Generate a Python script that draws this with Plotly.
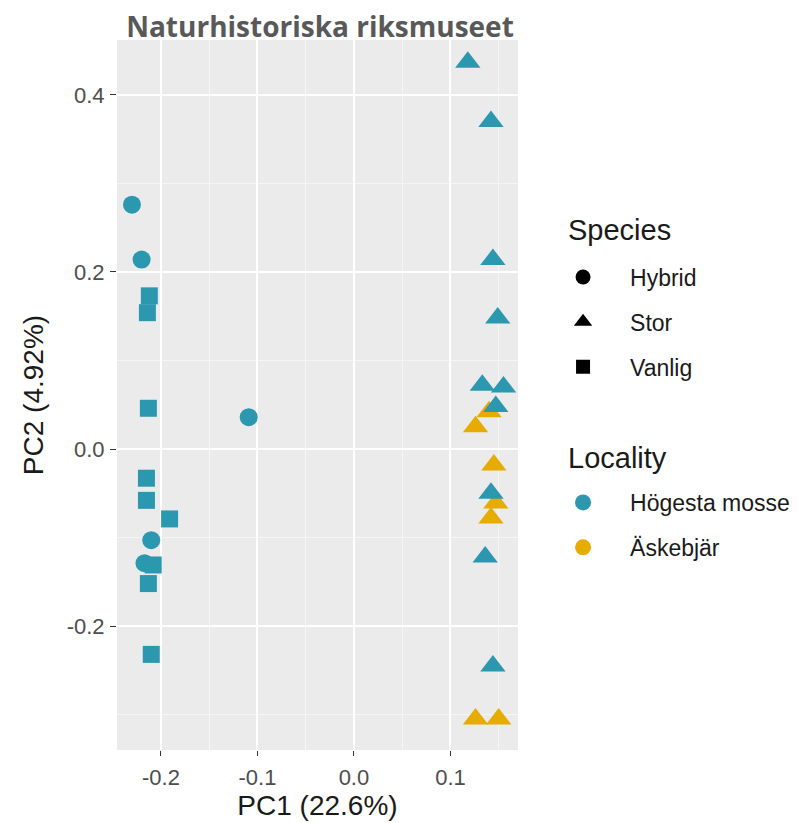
import plotly.graph_objects as go

# Data
hyb_x = [-0.230, -0.220, -0.109, -0.210, -0.217]
hyb_y = [0.276, 0.214, 0.036, -0.103, -0.129]

van_x = [-0.212, -0.214, -0.213, -0.215, -0.215, -0.191, -0.208, -0.213, -0.210]
van_y = [0.173, 0.154, 0.046, -0.033, -0.058, -0.079, -0.131, -0.152, -0.232]

stor_h_x = [0.118, 0.142, 0.144, 0.149, 0.133, 0.155, 0.147, 0.142, 0.136, 0.144]
stor_h_y = [0.437, 0.370, 0.214, 0.148, 0.072, 0.070, 0.048, -0.050, -0.122, -0.245]

stor_a_x = [0.140, 0.126, 0.145, 0.147, 0.142, 0.126, 0.150]
stor_a_y = [0.042, 0.025, -0.018, -0.061, -0.078, -0.305, -0.305]

species = ["Hybrid", "Stor", "Vanlig"]
localities = ["Högesta mosse", "Äskebjär"]
x_ticks = [-0.2, -0.1, 0.0, 0.1]
y_ticks = [-0.2, 0.0, 0.2, 0.4]

BLUE = "#2C98B0"
YELLOW = "#E6AC00"
FONT = "Liberation Sans, Arial"

fig = go.Figure()

def pts(x, y, sym, col, size):
    fig.add_trace(go.Scatter(x=x, y=y, mode="markers", showlegend=False,
                             marker=dict(symbol=sym, color=col, size=size,
                                         line=dict(width=0))))

pts(stor_a_x, stor_a_y, "triangle-up", YELLOW, 22)
pts(stor_h_x, stor_h_y, "triangle-up", BLUE, 22)
pts(hyb_x, hyb_y, "circle", BLUE, 18)
pts(van_x, van_y, "square", BLUE, 17)

# legend entries
for name, sym, sz in zip(species, ["circle", "triangle-up", "square"], [15, 18, 14]):
    fig.add_trace(go.Scatter(x=[None], y=[None], mode="markers", name=name,
                             legend="legend", legendgroup=name,
                             marker=dict(symbol=sym, color="black", size=sz)))
for name, col in zip(localities, [BLUE, YELLOW]):
    fig.add_trace(go.Scatter(x=[None], y=[None], mode="markers", name=name,
                             legend="legend2", legendgroup=name,
                             marker=dict(symbol="circle", color=col, size=16)))

legend_common = dict(bgcolor="rgba(0,0,0,0)", tracegroupgap=12,
                     font=dict(family=FONT, size=23, color="#1a1a1a"),
                     itemsizing="trace", itemwidth=84,
                     xanchor="left", yanchor="middle")

# page body has an 8px default margin, so the figure is drawn offset by 8px
PH = 710       # panel height

fig.update_layout(
    width=799, height=823,
    margin=dict(l=109, r=289, t=32, b=81),
    paper_bgcolor="white",
    plot_bgcolor="#EBEBEB",
    title=dict(text="<b>Naturhistoriska riksmuseet</b>", x=(320 - 8) / 799, xref="container",
               xanchor="center", y=1 - 19 / 823, yanchor="middle",
               font=dict(family="Open Sans", size=28, color="#595959")),
    xaxis=dict(range=[-0.2455, 0.170], tickvals=x_ticks,
               ticktext=[f"{v:.1f}" for v in x_ticks], automargin=False,
               showgrid=True, gridcolor="white", gridwidth=1.6,
               zeroline=False, ticks="outside", ticklen=5, tickcolor="#333333",
               ticklabelstandoff=3,
               tickfont=dict(family=FONT, size=22, color="#4D4D4D"),
               title=dict(text="PC1 (22.6%)", standoff=0,
                          font=dict(family=FONT, size=28, color="#1a1a1a")),
               minor=dict(showgrid=True, gridcolor="#F5F5F5", gridwidth=0.8,
                          dtick=0.05, tick0=0.05)),
    yaxis=dict(range=[-0.340, 0.462], tickvals=y_ticks,
               ticktext=[f"{v:.1f}" for v in y_ticks], automargin=False,
               showgrid=True, gridcolor="white", gridwidth=1.6,
               zeroline=False, ticks="outside", ticklen=6, tickcolor="#333333",
               ticklabelstandoff=1,
               tickfont=dict(family=FONT, size=22, color="#4D4D4D"),
               title=dict(text="PC2 (4.92%)", standoff=14,
                          font=dict(family=FONT, size=28, color="#1a1a1a")),
               minor=dict(showgrid=True, gridcolor="#F5F5F5", gridwidth=0.8,
                          dtick=0.1, tick0=0.1)),
    legend=dict(x=1.045, y=(750 - 322) / PH, **legend_common),
    legend2=dict(x=1.045, y=(750 - 525) / PH, **legend_common),
    annotations=[
        dict(text="Species", xref="paper", yref="paper", x=1.12,
             y=(750 - 230) / PH, xanchor="left", yanchor="middle", showarrow=False,
             font=dict(family=FONT, size=29, color="#1a1a1a")),
        dict(text="Locality", xref="paper", yref="paper", x=1.12,
             y=(750 - 458) / PH, xanchor="left", yanchor="middle", showarrow=False,
             font=dict(family=FONT, size=29, color="#1a1a1a")),
    ],
)

fig.write_html("out.html")
